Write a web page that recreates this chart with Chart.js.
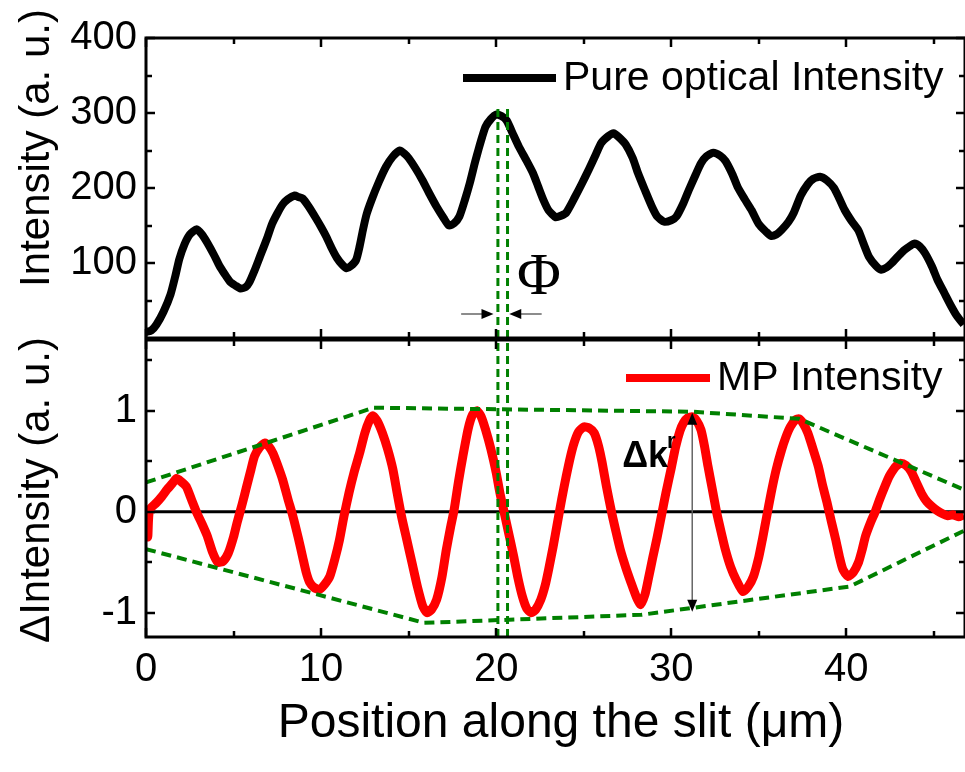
<!DOCTYPE html>
<html>
<head>
<meta charset="utf-8">
<script src="https://cdn.jsdelivr.net/npm/chart.js@4.4.0/dist/chart.umd.min.js"></script>
<style>
  html, body { margin: 0; padding: 0; background: #fff; }
  #wrap { position: relative; width: 965px; height: 772px; overflow: hidden; }
  #top { position: absolute; left: 0; top: 0; }
  #bot { position: absolute; left: 0; top: 290px; }
</style>
</head>
<body>
<div id="wrap">
  <canvas id="top" width="965" height="380"></canvas>
  <canvas id="bot" width="965" height="482"></canvas>
</div>
<script>
(function () {
  "use strict";

  // data
  const xMax = 46.78;
  const xTicks = [0, 10, 20, 30, 40];
  const xMinorTicks = [5, 15, 25, 35, 45];
  const optTicks = [100, 200, 300, 400];
  const optMinorTicks = [50, 150, 250, 350];
  const mpTicks = [-1, 0, 1];
  const mpMinorTicks = [-0.5, 0.5, 1.5];

  const optPos = [0, 0.3, 0.6, 1.0, 1.4, 1.7, 1.9, 2.2, 2.5, 2.9, 3.2, 3.5, 3.9, 4.2, 4.5, 4.8, 5.1, 5.4, 5.7, 5.9,
    6.2, 6.5, 6.9, 7.2, 7.5, 7.8, 8.1, 8.5, 8.7, 8.95, 9.3, 9.7, 10.0, 10.3, 10.6, 10.9, 11.2, 11.45, 11.7, 12.0,
    12.2, 12.4, 12.6, 12.9, 13.3, 13.7, 14.1, 14.5, 14.8, 15.0, 15.4, 15.8, 16.2, 16.6, 17.0, 17.3, 17.6, 17.9, 18.2, 18.5,
    18.8, 19.0, 19.2, 19.4, 19.7, 20.0, 20.3, 20.6, 21.0, 21.3, 21.7, 22.1, 22.4, 22.7, 23.0, 23.4, 23.7, 24.0, 24.5, 24.9,
    25.3, 25.7, 26.0, 26.4, 26.7, 27.0, 27.4, 27.8, 28.1, 28.5, 28.9, 29.2, 29.6, 30.0, 30.3, 30.7, 31.0, 31.4, 31.7, 32.0,
    32.4, 32.8, 33.1, 33.5, 33.8, 34.2, 34.6, 35.0, 35.4, 35.7, 36.0, 36.3, 36.7, 37.0, 37.4, 37.8, 38.1, 38.5, 38.9, 39.3,
    39.6, 39.9, 40.3, 40.7, 41.0, 41.3, 41.7, 42.0, 42.3, 42.6, 43.0, 43.3, 43.6, 43.9, 44.2, 44.5, 44.9, 45.2, 45.6, 46.0,
    46.3, 46.7];
  const optVal = [8, 10, 18, 35, 58, 85, 105, 125, 138, 145, 138, 127, 110, 96, 85, 75, 70, 66, 68, 74,
    90, 108, 132, 152, 166, 178, 185, 190, 188, 186, 175, 160, 148, 135, 120, 107, 98, 93, 96, 104,
    122, 145, 165, 185, 208, 228, 242, 250, 245, 240, 226, 210, 192, 175, 160, 150, 153, 162, 183, 207,
    235, 252, 268, 282, 292, 298, 296, 290, 270, 255, 238, 220, 202, 184, 170, 161, 163, 167, 188, 206,
    225, 245, 260, 269, 273, 268, 258, 240, 220, 197, 175, 162, 155, 157, 162, 180, 197, 218, 233, 242,
    247, 243, 236, 218, 201, 185, 170, 152, 142, 136, 138, 144, 155, 167, 190, 205, 212, 215, 210, 200,
    186, 171, 156, 143, 125, 108, 96, 91, 94, 100, 110, 117, 122, 126, 122, 113, 95, 78, 60, 42,
    30, 18];

  const mpPos = [0, 0.1, 0.2, 0.6, 0.9, 1.2, 1.5, 1.75, 2.0, 2.3, 2.6, 2.9, 3.2, 3.5, 3.8, 4.1, 4.4, 4.7, 5.0, 5.2,
    5.5, 5.75, 6.0, 6.2, 6.5, 6.8, 7.0, 7.25, 7.5, 7.8, 8.1, 8.4, 8.7, 8.95, 9.15, 9.35, 9.6, 9.9, 10.2, 10.5,
    10.8, 11.05, 11.3, 11.6, 11.9, 12.2, 12.5, 12.75, 12.95, 13.2, 13.5, 13.8, 14.1, 14.35, 14.6, 14.9, 15.2, 15.5, 15.8, 16.05,
    16.3, 16.6, 16.9, 17.15, 17.4, 17.6, 17.85, 18.1, 18.4, 18.65, 18.9, 19.15, 19.4, 19.7, 20.0, 20.2, 20.45, 20.7, 21.0, 21.25,
    21.5, 21.75, 22.0, 22.25, 22.55, 22.8, 23.0, 23.25, 23.5, 23.75, 24.0, 24.25, 24.45, 24.7, 25.0, 25.3, 25.6, 25.85, 26.05, 26.3,
    26.6, 26.85, 27.1, 27.4, 27.7, 28.0, 28.25, 28.5, 28.7, 28.95, 29.2, 29.45, 29.7, 30.0, 30.25, 30.5, 30.7, 30.95, 31.2, 31.45,
    31.7, 31.9, 32.1, 32.35, 32.6, 32.85, 33.1, 33.4, 33.7, 34.1, 34.4, 34.7, 35.0, 35.2, 35.45, 35.7, 36.0, 36.3, 36.55, 36.8,
    37.1, 37.3, 37.55, 37.8, 38.1, 38.4, 38.65, 38.9, 39.15, 39.4, 39.6, 39.8, 40.1, 40.4, 40.7, 40.9, 41.1, 41.4, 41.65, 41.9,
    42.2, 42.45, 42.7, 42.9, 43.1, 43.4, 43.7, 44.0, 44.3, 44.6, 44.9, 45.2, 45.5, 45.8, 46.1, 46.4, 46.7];
  const mpVal = [0.0, -0.25, 0.02, 0.09, 0.15, 0.22, 0.28, 0.33, 0.30, 0.25, 0.12, -0.01, -0.12, -0.24, -0.40, -0.50, -0.49, -0.41, -0.25, -0.11,
    0.08, 0.25, 0.42, 0.55, 0.64, 0.68, 0.65, 0.58, 0.47, 0.32, 0.13, -0.05, -0.26, -0.45, -0.60, -0.70, -0.75, -0.77, -0.72, -0.64,
    -0.46, -0.28, -0.05, 0.19, 0.40, 0.58, 0.78, 0.90, 0.95, 0.90, 0.78, 0.62, 0.42, 0.18, -0.05, -0.28, -0.51, -0.74, -0.93, -1.0,
    -0.97, -0.87, -0.65, -0.38, -0.15, 0.02, 0.30, 0.55, 0.82, 0.96, 1.0, 0.94, 0.81, 0.62, 0.39, 0.20, 0.0, -0.20, -0.44, -0.66,
    -0.84, -0.96, -1.0, -0.97, -0.87, -0.73, -0.57, -0.35, -0.11, 0.13, 0.35, 0.55, 0.68, 0.79, 0.84, 0.83, 0.78, 0.65, 0.49, 0.25,
    -0.01, -0.20, -0.38, -0.55, -0.70, -0.84, -0.92, -0.82, -0.66, -0.45, -0.25, -0.03, 0.19, 0.43, 0.64, 0.80, 0.88, 0.93, 0.94, 0.90,
    0.81, 0.65, 0.45, 0.22, -0.01, -0.20, -0.38, -0.55, -0.67, -0.79, -0.74, -0.64, -0.45, -0.28, -0.05, 0.18, 0.42, 0.61, 0.74, 0.84,
    0.91, 0.92, 0.87, 0.78, 0.62, 0.45, 0.26, 0.09, -0.10, -0.28, -0.44, -0.57, -0.64, -0.60, -0.50, -0.38, -0.24, -0.10, 0.0, 0.12,
    0.25, 0.35, 0.42, 0.46, 0.48, 0.46, 0.40, 0.29, 0.18, 0.10, 0.05, 0.01, -0.02, -0.04, -0.03, -0.05, -0.03];

  const upperEnvPos = [0, 13.0, 31.2, 37.3, 46.7];
  const upperEnvVal = [0.29, 1.03, 0.99, 0.92, 0.22];
  const lowerEnvPos = [0, 15.9, 28.3, 40.2, 46.7];
  const lowerEnvVal = [-0.37, -1.10, -1.02, -0.74, -0.19];
  const phiLines = [20.1, 20.65];

  const FONT = '"Liberation Sans", Arial, sans-serif';
  const GREEN = "#008000";
  const BOT = 290; // top of the lower canvas on the page

  function pts(xs, ys) {
    return xs.map((x, i) => ({ x: x, y: ys[i] }));
  }

  function vLines(lo, hi) {
    return phiLines.map((x) => ({
      data: [{ x: x, y: lo }, { x: x, y: hi }],
      showLine: true,
      borderColor: GREEN,
      borderWidth: 3,
      borderDash: [8, 5],
      pointRadius: 0,
      order: 1,
    }));
  }

  // frame with inward ticks on all four sides
  function drawFrame(chart, yMaj, yMin) {
    const { ctx, chartArea: a } = chart;
    const sx = chart.scales.x;
    const sy = chart.scales.y;
    ctx.save();
    ctx.strokeStyle = "#000";
    ctx.lineWidth = 2.5;
    ctx.beginPath();
    xTicks.concat(xMinorTicks).forEach((v) => {
      const len = xTicks.includes(v) ? 9 : 6;
      const px = Math.round(sx.getPixelForValue(v));
      ctx.moveTo(px, a.top);
      ctx.lineTo(px, a.top + len);
      ctx.moveTo(px, a.bottom);
      ctx.lineTo(px, a.bottom - len);
    });
    yMaj.concat(yMin).forEach((v) => {
      const len = yMaj.includes(v) ? 9 : 6;
      const py = Math.round(sy.getPixelForValue(v));
      ctx.moveTo(a.left, py);
      ctx.lineTo(a.left + len, py);
      ctx.moveTo(a.right, py);
      ctx.lineTo(a.right - len, py);
    });
    ctx.stroke();
    ctx.lineWidth = 3;
    ctx.strokeRect(a.left, a.top, a.right - a.left, a.bottom - a.top);
    ctx.restore();
  }

  function drawLegend(ctx, box, color, lineX1, lineX2, y, text) {
    ctx.save();
    ctx.fillStyle = "#fff";
    ctx.fillRect(box[0], box[1], box[2], box[3]);
    ctx.strokeStyle = color;
    ctx.lineWidth = 8;
    ctx.beginPath();
    ctx.moveTo(lineX1, y);
    ctx.lineTo(lineX2, y);
    ctx.stroke();
    ctx.fillStyle = "#000";
    ctx.font = "41px " + FONT;
    ctx.textBaseline = "middle";
    ctx.textAlign = "left";
    ctx.fillText(text, lineX2 + 7, y + 1);
    ctx.restore();
  }

  function arrow(ctx, x1, y1, x2, y2) {
    const ang = Math.atan2(y2 - y1, x2 - x1);
    const c = Math.cos(ang), s = Math.sin(ang);
    ctx.strokeStyle = "#666";
    ctx.lineWidth = 1.5;
    ctx.beginPath();
    ctx.moveTo(x1, y1);
    ctx.lineTo(x2 - 6 * c, y2 - 6 * s);
    ctx.stroke();
    ctx.fillStyle = "#000";
    ctx.beginPath();
    ctx.moveTo(x2, y2);
    ctx.lineTo(x2 - 12 * c + 5 * s, y2 - 12 * s - 5 * c);
    ctx.lineTo(x2 - 12 * c - 5 * s, y2 - 12 * s + 5 * c);
    ctx.closePath();
    ctx.fill();
  }

  function vTitle(ctx, text, x, y) {
    ctx.save();
    ctx.translate(x, y);
    ctx.rotate(-Math.PI / 2);
    ctx.fillStyle = "#000";
    ctx.font = "42px " + FONT;
    ctx.textAlign = "center";
    ctx.textBaseline = "middle";
    ctx.fillText(text, 0, 0);
    ctx.restore();
  }

  const tickFont = { family: FONT, size: 40 };

  function yScale(min, max, ticks) {
    return {
      min: min,
      max: max,
      afterFit: (s) => { s.width = 146; },
      afterBuildTicks: (s) => { s.ticks = ticks.map((v) => ({ value: v })); },
      grid: { display: false, drawTicks: false },
      border: { display: false },
      ticks: { font: tickFont, color: "#000", padding: 9 },
    };
  }

  // top panel: pure optical intensity
  const topPlugin = {
    id: "topDeco",
    afterDatasetsDraw(chart) {
      const ctx = chart.ctx;
      const sx = chart.scales.x, sy = chart.scales.y;
      drawLegend(ctx, [455, 44, 505, 63], "#000", 463, 556, 78, "Pure optical Intensity");
      // phase shift marker
      ctx.save();
      const ay = sy.getPixelForValue(32);
      arrow(ctx, sx.getPixelForValue(18.0), ay, sx.getPixelForValue(19.85), ay);
      arrow(ctx, sx.getPixelForValue(22.6), ay, sx.getPixelForValue(20.75), ay);
      ctx.fillStyle = "#000";
      ctx.font = '60px "Liberation Serif", "Times New Roman", serif';
      ctx.textAlign = "center";
      ctx.textBaseline = "middle";
      ctx.fillText("Φ", sx.getPixelForValue(22.45), sy.getPixelForValue(80));
      ctx.restore();
    },
    afterDraw(chart) {
      drawFrame(chart, optTicks, optMinorTicks);
      vTitle(chart.ctx, "Intensity (a. u.)", 37, 148);
    },
  };

  new Chart(document.getElementById("top"), {
    type: "scatter",
    data: {
      datasets: vLines(0, 400).concat([
        {
          label: "Pure optical Intensity",
          data: pts(optPos, optVal),
          showLine: true,
          borderColor: "#000",
          borderWidth: 8,
          pointRadius: 0,
          tension: 0.2,
          order: 2,
        },
      ]),
    },
    options: {
      responsive: false,
      animation: false,
      layout: { padding: { left: 0, right: -2, top: 38, bottom: 42 } },
      plugins: { legend: { display: false }, tooltip: { enabled: false } },
      scales: {
        x: { type: "linear", min: 0, max: xMax, display: false },
        y: yScale(0, 400, optTicks),
      },
    },
    plugins: [topPlugin],
  });

  // bottom panel: MP intensity
  const botPlugin = {
    id: "botDeco",
    beforeDatasetsDraw(chart) {
      const { ctx, chartArea: a } = chart;
      const py = chart.scales.y.getPixelForValue(0);
      ctx.save();
      ctx.strokeStyle = "#000";
      ctx.lineWidth = 3;
      ctx.beginPath();
      ctx.moveTo(a.left, py);
      ctx.lineTo(a.right, py);
      ctx.stroke();
      ctx.restore();
    },
    afterDatasetsDraw(chart) {
      const ctx = chart.ctx;
      const sx = chart.scales.x, sy = chart.scales.y;
      drawLegend(ctx, [620, 347 - BOT, 340, 57], "#ff0000", 626, 710, 378 - BOT, "MP Intensity");
      // delta k arrow
      ctx.save();
      const ax = sx.getPixelForValue(31.2);
      const yTop = sy.getPixelForValue(0.98), yBot = sy.getPixelForValue(-0.99);
      const yMid = (yTop + yBot) / 2;
      arrow(ctx, ax, yMid, ax, yTop);
      arrow(ctx, ax, yMid, ax, yBot);
      ctx.fillStyle = "#000";
      ctx.font = "bold 36px " + FONT;
      ctx.textAlign = "left";
      ctx.textBaseline = "alphabetic";
      const tx = sx.getPixelForValue(27.2), ty = sy.getPixelForValue(0.44);
      ctx.fillText("Δk", tx, ty);
      const w = ctx.measureText("Δk").width;
      ctx.font = "bold 22px " + FONT;
      ctx.fillText("r", tx + w - 1, ty - 19);
      ctx.restore();
    },
    afterDraw(chart) {
      const ctx = chart.ctx;
      drawFrame(chart, mpTicks, mpMinorTicks);
      vTitle(ctx, "ΔIntensity (a. u.)", 37, 490 - BOT);
      ctx.save();
      ctx.fillStyle = "#000";
      ctx.font = "48px " + FONT;
      ctx.textAlign = "center";
      ctx.textBaseline = "alphabetic";
      ctx.fillText("Position along the slit (μm)", 561, 737 - BOT);
      ctx.restore();
    },
  };

  const envStyle = {
    showLine: true,
    borderColor: GREEN,
    borderWidth: 4,
    borderDash: [10, 6],
    pointRadius: 0,
    tension: 0,
    order: 1,
  };

  new Chart(document.getElementById("bot"), {
    type: "scatter",
    data: {
      datasets: vLines(-1.24, 1.7).concat([
        Object.assign({ data: pts(upperEnvPos, upperEnvVal) }, envStyle),
        Object.assign({ data: pts(lowerEnvPos, lowerEnvVal) }, envStyle),
        {
          label: "MP Intensity",
          data: pts(mpPos, mpVal),
          showLine: true,
          borderColor: "#ff0000",
          borderWidth: 9,
          pointRadius: 0,
          tension: 0.2,
          order: 2,
        },
      ]),
    },
    options: {
      responsive: false,
      animation: false,
      layout: { padding: { left: 0, right: -2, top: 50, bottom: 0 } },
      plugins: { legend: { display: false }, tooltip: { enabled: false } },
      scales: {
        x: {
          type: "linear",
          min: 0,
          max: xMax,
          afterFit: (s) => { s.height = 135; },
          afterBuildTicks: (s) => { s.ticks = xTicks.map((v) => ({ value: v })); },
          grid: { display: false, drawTicks: false },
          border: { display: false },
          ticks: { font: tickFont, color: "#000", padding: 9, maxRotation: 0 },
        },
        y: yScale(-1.24, 1.7, mpTicks),
      },
    },
    plugins: [botPlugin],
  });
})();
</script>
</body>
</html>
